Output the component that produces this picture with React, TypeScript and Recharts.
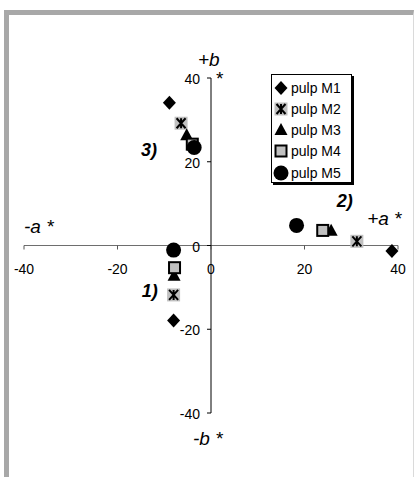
import React from "react";
import {
  Legend,
  ReferenceDot,
  ReferenceLine,
  Scatter,
  ScatterChart,
  XAxis,
  YAxis,
} from "recharts";

type Pt = { x: number; y: number };

const seriesNames = ["pulp M1", "pulp M2", "pulp M3", "pulp M4", "pulp M5"];
const markerKinds = ["diamond", "star", "triangle", "square", "circle"];

// points in order: group 3) top left, group 2) right, group 1) below zero
const pulpM1: Pt[] = [
  { x: -8.9, y: 34.1 },
  { x: 38.7, y: -1.3 },
  { x: -8.0, y: -17.9 },
];
const pulpM2: Pt[] = [
  { x: -6.4, y: 29.2 },
  { x: 31.2, y: 1.0 },
  { x: -8.0, y: -11.8 },
];
const pulpM3: Pt[] = [
  { x: -5.2, y: 26.3 },
  { x: 25.7, y: 3.5 },
  { x: -7.9, y: -7.2 },
];
const pulpM4: Pt[] = [
  { x: -4.0, y: 24.2 },
  { x: 23.9, y: 3.6 },
  { x: -7.8, y: -5.3 },
];
const pulpM5: Pt[] = [
  { x: -3.6, y: 23.4 },
  { x: 18.3, y: 4.8 },
  { x: -8.0, y: -1.1 },
];
const seriesData = [pulpM1, pulpM2, pulpM3, pulpM4, pulpM5];

const xTicks = [-40, -20, 0, 20, 40];
const yTicks = [-40, -20, 0, 20, 40];

const FONT = '"Liberation Sans", Arial, sans-serif';
const SILVER = "#c0c0c0";

function Marker({ kind, cx, cy }: { kind: string; cx: number; cy: number }) {
  switch (kind) {
    case "diamond":
      return (
        <polygon
          points={`${cx},${cy - 7} ${cx + 6.5},${cy} ${cx},${cy + 7} ${cx - 6.5},${cy}`}
          fill="#000"
        />
      );
    case "star":
      return (
        <g>
          <rect x={cx - 6.5} y={cy - 6.5} width={13} height={13} fill={SILVER} />
          <path
            d={`M${cx - 4.5},${cy - 5}L${cx + 4.5},${cy + 5}M${cx + 4.5},${cy - 5}L${cx - 4.5},${cy + 5}M${cx},${cy - 5}L${cx},${cy + 5}`}
            stroke="#000"
            strokeWidth={2}
          />
        </g>
      );
    case "triangle":
      return (
        <polygon
          points={`${cx},${cy - 7} ${cx + 6.5},${cy + 5} ${cx - 6.5},${cy + 5}`}
          fill="#000"
        />
      );
    case "square":
      return (
        <rect
          x={cx - 5.5}
          y={cy - 5.5}
          width={11}
          height={11}
          fill={SILVER}
          stroke="#000"
          strokeWidth={2}
        />
      );
    default:
      return <circle cx={cx} cy={cy} r={7.5} fill="#000" />;
  }
}

function LegendBox() {
  return (
    <div
      style={{
        width: 81,
        height: 109,
        boxSizing: "border-box",
        border: "1px solid #000",
        boxShadow: "2px 2px 0 #000",
        background: "#fff",
        paddingTop: 2,
        fontFamily: FONT,
        fontSize: 14,
        color: "#000",
      }}
    >
      {seriesNames.map((name, i) => (
        <div key={name} style={{ display: "flex", alignItems: "center", height: 21.25 }}>
          <svg width={19} height={18} style={{ flex: "none" }}>
            <Marker kind={markerKinds[i]} cx={9} cy={9} />
          </svg>
          <span style={{ whiteSpace: "nowrap" }}>{name}</span>
        </div>
      ))}
    </div>
  );
}

const textShape =
  (text: string, style: React.CSSProperties) =>
  (p: any) =>
    (
      <text x={p.cx} y={p.cy} fontFamily={FONT} fill="#000" style={style}>
        {text}
      </text>
    );

const axisTitle = { fontSize: 19, fontStyle: "italic" };
const groupTitle = { fontSize: 18, fontStyle: "italic", fontWeight: 700 };

export default function App() {
  return (
    <div
      style={{
        position: "absolute",
        left: 0,
        top: 0,
        width: 415,
        height: 477,
        background: "#fff",
        overflow: "hidden",
      }}
    >
      <div
        style={{
          position: "absolute",
          left: 4,
          top: 10,
          width: 410,
          height: 467,
          boxSizing: "border-box",
          borderTop: "5px solid #a8a8a8",
          borderLeft: "5px solid #a8a8a8",
          borderRight: "1px solid #dadada",
        }}
      />
      <div style={{ position: "absolute", left: 0, top: 0 }}>
        <ScatterChart
          width={415}
          height={477}
          margin={{ top: 78, right: 17, bottom: 64, left: 24 }}
        >
          <XAxis type="number" dataKey="x" domain={[-40, 40]} hide />
          <YAxis type="number" dataKey="y" domain={[-40, 40]} hide />

          {xTicks.map((v) => (
            <ReferenceDot
              key={`xt${v}`}
              x={v}
              y={0}
              ifOverflow="visible"
              shape={(p: any) => (
                <g>
                  <line x1={p.cx} y1={p.cy} x2={p.cx} y2={p.cy + 4} stroke="#555" />
                  <text
                    x={p.cx}
                    y={p.cy + 28}
                    textAnchor="middle"
                    fontFamily={FONT}
                    fontSize={14}
                    fill="#000"
                  >
                    {v}
                  </text>
                </g>
              )}
            />
          ))}
          {yTicks.map((v) => (
            <ReferenceDot
              key={`yt${v}`}
              x={0}
              y={v}
              ifOverflow="visible"
              shape={(p: any) => (
                <g>
                  <line x1={p.cx - 4} y1={p.cy} x2={p.cx} y2={p.cy} stroke="#000" />
                  <text
                    x={p.cx - 11}
                    y={p.cy + 6}
                    textAnchor="end"
                    fontFamily={FONT}
                    fontSize={14}
                    fill="#000"
                  >
                    {v}
                  </text>
                </g>
              )}
            />
          ))}

          <ReferenceLine y={0} stroke="#6e6e6e" strokeWidth={1} />
          <ReferenceLine x={0} stroke="#000" strokeWidth={1} />

          <ReferenceDot x={-2.8} y={42.9} ifOverflow="visible" shape={textShape("+b", axisTitle)} />
          <ReferenceDot x={0.9} y={38.3} ifOverflow="visible" shape={textShape("*", axisTitle)} />
          <ReferenceDot x={-40} y={3.0} ifOverflow="visible" shape={textShape("-a *", axisTitle)} />
          <ReferenceDot x={33.4} y={4.9} ifOverflow="visible" shape={textShape("+a *", axisTitle)} />
          <ReferenceDot x={-3.85} y={-47.6} ifOverflow="visible" shape={textShape("-b *", axisTitle)} />
          <ReferenceDot x={-14.8} y={-12.3} ifOverflow="visible" shape={textShape("1)", groupTitle)} />
          <ReferenceDot x={26.9} y={9.2} ifOverflow="visible" shape={textShape("2)", groupTitle)} />
          <ReferenceDot x={-15} y={21.4} ifOverflow="visible" shape={textShape("3)", groupTitle)} />

          {seriesData.map((data, i) => (
            <Scatter
              key={seriesNames[i]}
              name={seriesNames[i]}
              data={data}
              isAnimationActive={false}
              shape={(p: any) => <Marker kind={markerKinds[i]} cx={p.cx} cy={p.cy} />}
            />
          ))}

          <Legend
            layout="vertical"
            align="center"
            verticalAlign="middle"
            content={() => <LegendBox />}
            wrapperStyle={{ left: 271, top: 74, width: 81, height: 109 }}
          />
        </ScatterChart>
      </div>
    </div>
  );
}
